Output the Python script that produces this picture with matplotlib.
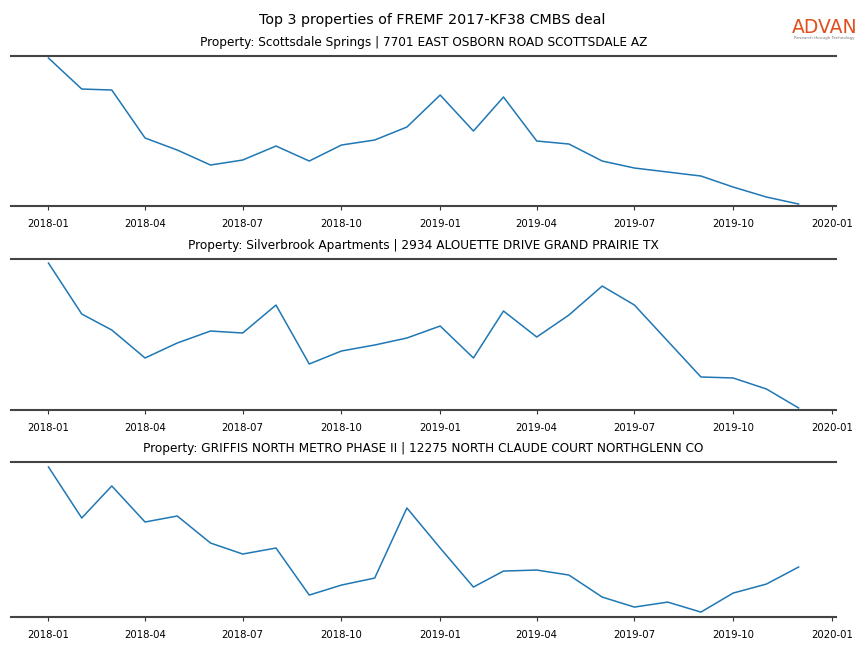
import matplotlib
matplotlib.use("Agg")
import matplotlib.pyplot as plt
import matplotlib.dates as mdates
import pandas as pd

dates = pd.date_range("2018-01-01", "2019-12-01", freq="MS")

titles = [
    "Property: Scottsdale Springs | 7701 EAST OSBORN ROAD SCOTTSDALE AZ",
    "Property: Silverbrook Apartments | 2934 ALOUETTE DRIVE GRAND PRAIRIE TX",
    "Property: GRIFFIS NORTH METRO PHASE II | 12275 NORTH CLAUDE COURT NORTHGLENN CO",
]

prop1 = [148, 117, 116, 68, 56, 41, 46, 60, 45, 61, 66, 79,
         111, 75, 109, 65, 62, 45, 38, 34, 30, 19, 9, 2]
prop2 = [147, 96, 80, 52, 67, 79, 77, 105, 46, 59, 65, 72,
         84, 52, 99, 73, 95, 124, 105, 69, 33, 32, 21, 2]
prop3 = [150, 99, 131, 95, 101, 74, 63, 69, 22, 32, 39, 109,
         69, 30, 46, 47, 42, 20, 10, 15, 5, 24, 33, 50]
series = [prop1, prop2, prop3]

tick_dates = pd.date_range("2018-01-01", "2020-01-01", freq="3MS")

fig = plt.figure(figsize=(8.64, 6.48), dpi=100)
fig.suptitle("Top 3 properties of FREMF 2017-KF38 CMBS deal", fontsize=10.3, y=0.98)

boxes = [(0.0127, 0.682, 0.955, 0.2316),
         (0.0127, 0.3673, 0.955, 0.2330),
         (0.0127, 0.0478, 0.955, 0.2392)]
margins = [(0.014, 0.014), (0.014, 0.028), (0.034, 0.034)]

for box, vals, title, (mb, mt) in zip(boxes, series, titles, margins):
    ax = fig.add_axes(box)
    ax.plot(dates, vals, color="#1f77b4", linewidth=1.1)
    lo, hi = min(vals), max(vals)
    r = hi - lo
    ax.set_ylim(lo - mb * r, hi + mt * r)
    ax.margins(x=0.05)
    ax.set_xticks(tick_dates)
    ax.xaxis.set_major_formatter(mdates.DateFormatter("%Y-%m"))
    ax.tick_params(axis="x", labelsize=7.3, length=3, width=0.8, pad=6.5, color="#333333")
    ax.set_yticks([])
    for s in ("left", "right"):
        ax.spines[s].set_visible(False)
    for s in ("top", "bottom"):
        ax.spines[s].set_color("#444444")
        ax.spines[s].set_linewidth(1.5)
    ax.set_title(title, fontsize=8.7, pad=7)

fig.text(0.9545, 0.958, "ADVAN", color="#E0501F", fontsize=13.5, ha="center", va="center")
fig.text(0.9545, 0.941, "Research through Technology", color="#777777", fontsize=3, ha="center", va="center")

fig.savefig("out.png", dpi=100)
